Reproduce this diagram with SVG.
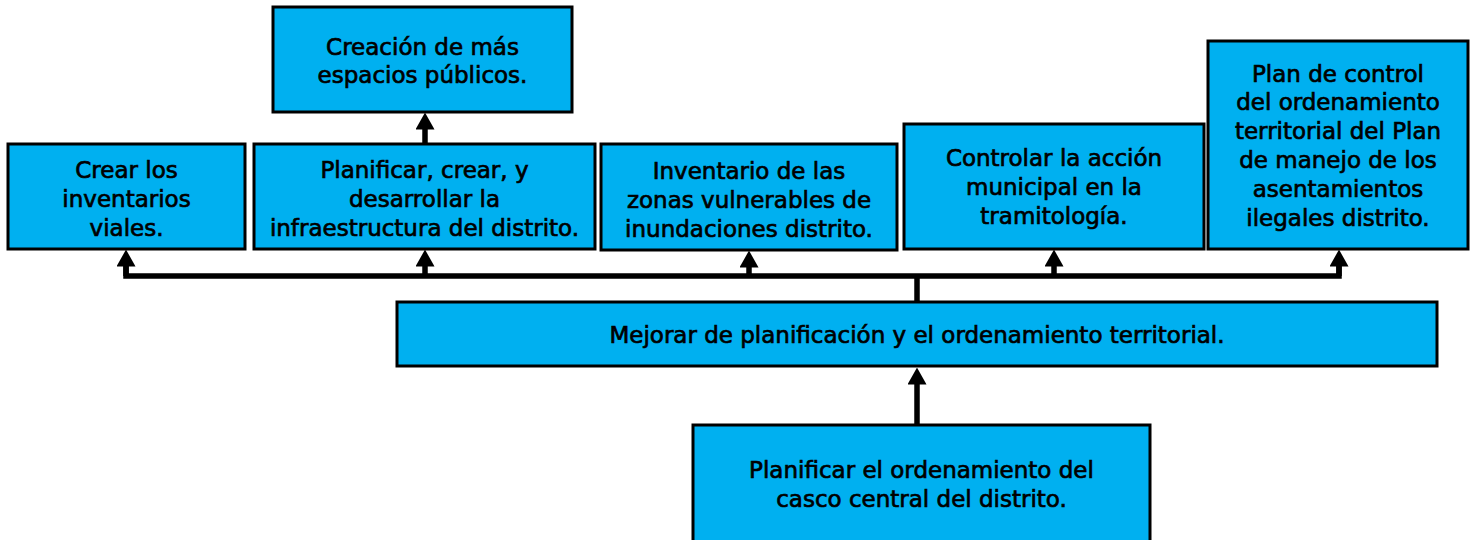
<svg xmlns="http://www.w3.org/2000/svg" width="1473" height="540" viewBox="0 0 1473 540">
<style>
.box{fill:#00B0F0;stroke:#000;stroke-width:3}
.t{font-family:"DejaVu Sans","Liberation Sans",sans-serif;font-size:23px;fill:#000;stroke:#000;stroke-width:0.7;text-anchor:middle}
.c{fill:none;stroke:#000;stroke-width:5.5}
</style>
<defs>
<marker id="ah" viewBox="0 0 17 19" refX="0.5" refY="9.5" markerWidth="17" markerHeight="19" markerUnits="userSpaceOnUse" orient="auto">
<path d="M0,0 L17,9.5 L0,19 Z" fill="#000"/>
</marker>
</defs>
<rect width="1473" height="540" fill="#fff"/>
<g id="connectors">
<path class="c" d="M126,266 L126,276 L1339,276 L1339,266"/>
<path class="c" d="M126,276 L126,266" marker-end="url(#ah)"/>
<path class="c" d="M1339,276 L1339,266" marker-end="url(#ah)"/>
<path class="c" d="M425,276 L425,266" marker-end="url(#ah)"/>
<path class="c" d="M749,276 L749,267" marker-end="url(#ah)"/>
<path class="c" d="M1054,276 L1054,266" marker-end="url(#ah)"/>
<path class="c" d="M917,302 L917,274"/>
<path class="c" d="M917,425 L917,384" marker-end="url(#ah)"/>
<path class="c" d="M425,143 L425,129" marker-end="url(#ah)"/>
</g>
<g id="n-espacios">
<rect class="box" x="273" y="7" width="299" height="105"/>
<text class="t" x="422.5" y="55">Creación de más</text>
<text class="t" x="422.5" y="83">espacios públicos.</text>
</g>
<g id="n-viales">
<rect class="box" x="8" y="144" width="237" height="105"/>
<text class="t" x="126.5" y="178">Crear los</text>
<text class="t" x="126.5" y="207">inventarios</text>
<text class="t" x="126.5" y="236">viales.</text>
</g>
<g id="n-infra">
<rect class="box" x="254" y="144" width="341" height="105"/>
<text class="t" x="424.5" y="178">Planificar, crear, y</text>
<text class="t" x="424.5" y="207">desarrollar la</text>
<text class="t" x="424.5" y="236">infraestructura del distrito.</text>
</g>
<g id="n-inundaciones">
<rect class="box" x="601" y="144" width="296" height="106"/>
<text class="t" x="749" y="179">Inventario de las</text>
<text class="t" x="749" y="208">zonas vulnerables de</text>
<text class="t" x="749" y="237">inundaciones distrito.</text>
</g>
<g id="n-controlar">
<rect class="box" x="904" y="124" width="300" height="125"/>
<text class="t" x="1054" y="166">Controlar la acción</text>
<text class="t" x="1054" y="195">municipal en la</text>
<text class="t" x="1054" y="224">tramitología.</text>
</g>
<g id="n-plan">
<rect class="box" x="1208" y="41" width="260" height="208"/>
<text class="t" x="1338" y="82">Plan de control</text>
<text class="t" x="1338" y="110">del ordenamiento</text>
<text class="t" x="1338" y="139">territorial del Plan</text>
<text class="t" x="1338" y="168">de manejo de los</text>
<text class="t" x="1338" y="197">asentamientos</text>
<text class="t" x="1338" y="226">ilegales distrito.</text>
</g>
<g id="n-mejorar">
<rect class="box" x="397" y="302" width="1040" height="64"/>
<text class="t" x="917" y="343">Mejorar de planificación y el ordenamiento territorial.</text>
</g>
<g id="n-casco">
<rect class="box" x="693" y="425" width="457" height="130"/>
<text class="t" x="921.5" y="478">Planificar el ordenamiento del</text>
<text class="t" x="921.5" y="507">casco central del distrito.</text>
</g>
</svg>
